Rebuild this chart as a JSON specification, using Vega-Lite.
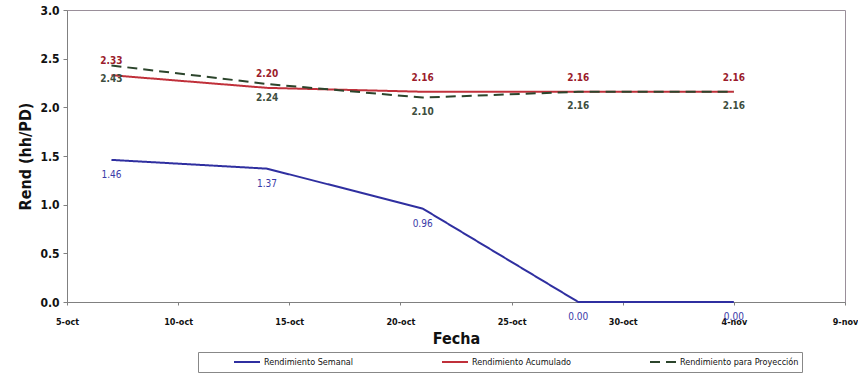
{
  "$schema": "https://vega.github.io/schema/vega-lite/v6.json",
  "autosize": {"type": "none"},
  "padding": {"left": 67, "top": 10, "right": 13, "bottom": 72},
  "width": 778,
  "height": 292,
  "background": "white",
  "config": {
    "view": {"stroke": "#9a8f9a", "strokeWidth": 1},
    "font": "DejaVu Sans"
  },
  "data": {
    "values": [
      {"fecha": "2010-10-07T00:00:00", "serie": "Rendimiento Semanal", "valor": 1.46},
      {"fecha": "2010-10-14T00:00:00", "serie": "Rendimiento Semanal", "valor": 1.37},
      {"fecha": "2010-10-21T00:00:00", "serie": "Rendimiento Semanal", "valor": 0.96},
      {"fecha": "2010-10-28T00:00:00", "serie": "Rendimiento Semanal", "valor": 0.00},
      {"fecha": "2010-11-04T00:00:00", "serie": "Rendimiento Semanal", "valor": 0.00},
      {"fecha": "2010-10-07T00:00:00", "serie": "Rendimiento Acumulado", "valor": 2.33},
      {"fecha": "2010-10-14T00:00:00", "serie": "Rendimiento Acumulado", "valor": 2.20},
      {"fecha": "2010-10-21T00:00:00", "serie": "Rendimiento Acumulado", "valor": 2.16},
      {"fecha": "2010-10-28T00:00:00", "serie": "Rendimiento Acumulado", "valor": 2.16},
      {"fecha": "2010-11-04T00:00:00", "serie": "Rendimiento Acumulado", "valor": 2.16},
      {"fecha": "2010-10-07T00:00:00", "serie": "Rendimiento para Proyección", "valor": 2.43},
      {"fecha": "2010-10-14T00:00:00", "serie": "Rendimiento para Proyección", "valor": 2.24},
      {"fecha": "2010-10-21T00:00:00", "serie": "Rendimiento para Proyección", "valor": 2.10},
      {"fecha": "2010-10-28T00:00:00", "serie": "Rendimiento para Proyección", "valor": 2.16},
      {"fecha": "2010-11-04T00:00:00", "serie": "Rendimiento para Proyección", "valor": 2.16}
    ]
  },
  "encoding": {
    "x": {
      "field": "fecha",
      "type": "temporal",
      "scale": {"domain": [{"year": 2010, "month": 10, "date": 5}, {"year": 2010, "month": 11, "date": 9}]},
      "axis": {
        "title": "Fecha",
        "titleFont": "DejaVu Sans Condensed",
        "titleFontSize": 16,
        "titleFontWeight": "bold",
        "titleColor": "#111",
        "titlePadding": 4,
        "values": [
          {"year": 2010, "month": 10, "date": 5},
          {"year": 2010, "month": 10, "date": 10},
          {"year": 2010, "month": 10, "date": 15},
          {"year": 2010, "month": 10, "date": 20},
          {"year": 2010, "month": 10, "date": 25},
          {"year": 2010, "month": 10, "date": 30},
          {"year": 2010, "month": 11, "date": 4},
          {"year": 2010, "month": 11, "date": 9}
        ],
        "labelExpr": "timeFormat(datum.value, '%-d') + '-' + (month(datum.value) == 9 ? 'oct' : 'nov')",
        "labelFont": "DejaVu Sans Condensed",
        "labelFontSize": 9,
        "labelFontWeight": "bold",
        "labelColor": "#111",
        "labelAngle": 0,
        "labelPadding": 12,
        "labelOverlap": false,
        "labelFlush": false,
        "domainColor": "#808080",
        "tickColor": "#808080",
        "tickSize": 3,
        "grid": false
      }
    },
    "y": {
      "field": "valor",
      "type": "quantitative",
      "scale": {"domain": [0, 3], "nice": false},
      "axis": {
        "title": "Rend (hh/PD)",
        "titleFont": "DejaVu Sans Condensed",
        "titleFontSize": 16,
        "titleFontWeight": "bold",
        "titleColor": "#111",
        "titlePadding": 6,
        "values": [0, 0.5, 1, 1.5, 2, 2.5, 3],
        "format": ".1f",
        "labelFont": "DejaVu Sans Condensed",
        "labelFontSize": 12,
        "labelFontWeight": "bold",
        "labelColor": "#111",
        "labelPadding": 4,
        "domainColor": "#808080",
        "tickColor": "#808080",
        "tickSize": 4,
        "grid": false
      }
    }
  },
  "layer": [
    {
      "mark": {"type": "line", "strokeWidth": 2},
      "encoding": {
        "color": {
          "field": "serie",
          "type": "nominal",
          "scale": {
            "domain": ["Rendimiento Semanal", "Rendimiento Acumulado", "Rendimiento para Proyección"],
            "range": ["#2f2fa0", "#c0303a", "#2c452c"]
          },
          "legend": {
            "title": null,
            "orient": "none",
            "legendX": 131,
            "legendY": 342,
            "direction": "horizontal",
            "gridAlign": "all",
            "columnPadding": 26,
            "padding": 3,
            "clipHeight": 14,
            "strokeColor": "#888888",
            "fillColor": "white",
            "symbolType": "stroke",
            "symbolSize": 676,
            "symbolStrokeWidth": 2,
            "symbolOffset": 32,
            "labelFont": "DejaVu Sans Condensed",
            "labelFontSize": 9,
            "labelColor": "#111",
            "labelOffset": 3,
            "labelLimit": 200,
            "offset": 0
          }
        },
        "strokeDash": {
          "field": "serie",
          "type": "nominal",
          "scale": {
            "domain": ["Rendimiento Semanal", "Rendimiento Acumulado", "Rendimiento para Proyección"],
            "range": [[1, 0], [1, 0], [10, 6]]
          },
          "legend": null
        }
      }
    },
    {
      "transform": [{"filter": "datum.serie == 'Rendimiento Semanal'"}],
      "mark": {"type": "text", "dy": 15, "fontSize": 10, "font": "DejaVu Sans Condensed", "color": "#3a3aa8"},
      "encoding": {"text": {"field": "valor", "type": "quantitative", "format": ".2f"}}
    },
    {
      "transform": [{"filter": "datum.serie == 'Rendimiento Acumulado'"}],
      "mark": {"type": "text", "dy": -14, "fontSize": 10, "fontWeight": "bold", "font": "DejaVu Sans Condensed", "color": "#9b1c2c"},
      "encoding": {"text": {"field": "valor", "type": "quantitative", "format": ".2f"}}
    },
    {
      "transform": [{"filter": "datum.serie == 'Rendimiento para Proyección'"}],
      "mark": {"type": "text", "dy": 14, "fontSize": 10, "fontWeight": "bold", "font": "DejaVu Sans Condensed", "color": "#3e4e3e"},
      "encoding": {"text": {"field": "valor", "type": "quantitative", "format": ".2f"}}
    }
  ]
}
